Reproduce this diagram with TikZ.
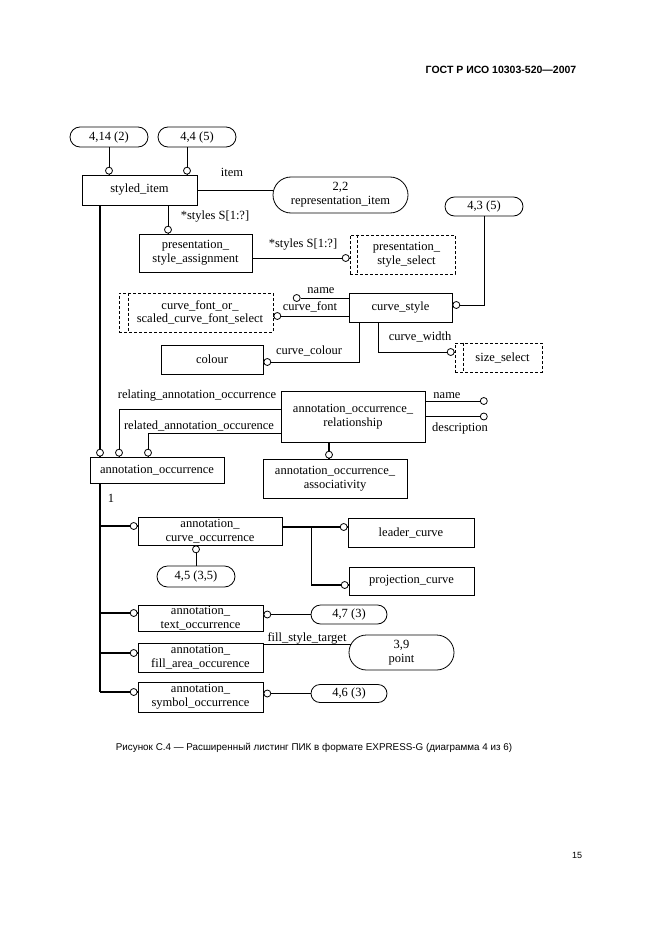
\documentclass[tikz,border=0pt]{standalone}
\usepackage{fontspec}
\setmainfont{Liberation Serif}
\newfontfamily\sansf{Liberation Sans}
\usetikzlibrary{calc}
\tikzset{
  txt/.style={font=\fontsize{12.5}{13.8}\selectfont},
  ent/.style={draw, line width=0.8pt, inner sep=0pt, align=center, txt},
  sel/.style={ent, dash pattern=on 3pt off 2pt},
  selline/.style={line width=0.8pt, dash pattern=on 3pt off 2pt},
  ov/.style={ent, rounded corners=#1},
  lbl/.style={inner sep=0pt, txt},
  ring/.style={circle, draw, line width=0.8pt, fill=white, inner sep=0pt, minimum size=7pt},
  thin/.style={line width=0.8pt},
  thick/.style={line width=1.6pt}
}
\begin{document}
\begin{tikzpicture}[x=1pt,y=-1pt]
\useasboundingbox (0,0) rectangle (661,936);
% page header, footer, caption
\node[inner sep=0pt, font=\sansf\bfseries\fontsize{10.5}{12}\selectfont] (hdr) at (501,70) {ГОСТ Р ИСО 10303-520—2007};
\node[inner sep=0pt, font=\sansf\fontsize{9.85}{11}\selectfont] (cap) at (314,748) {Рисунок С.4 — Расширенный листинг ПИК в формате EXPRESS-G (диаграмма 4 из 6)};
\node[inner sep=0pt, font=\sansf\fontsize{9}{11}\selectfont] (pg) at (577,855) {15};

% entities and references
\node[ov=10pt, minimum width=78pt, minimum height=20pt] (o414) at (109,137) {4,14 (2)};
\node[ov=10pt, minimum width=78pt, minimum height=20pt] (o44) at (197,137) {4,4 (5)};
\node[ent, minimum width=115pt, minimum height=30pt] (styled) at (139.5,190) {styled\_item};
\node[ov=18pt, minimum width=135pt, minimum height=36pt] (repitem) at (340.5,195) {2,2\\representation\_item};
\node[ent, minimum width=113pt, minimum height=38pt] (psa) at (195.5,253) {presentation\_\\style\_assignment};
\node[sel, minimum width=105pt, minimum height=39pt] (pss) at (402.5,254.5) {\hspace*{8pt}presentation\_\\\hspace*{8pt}style\_select};
\node[ov=9.5pt, minimum width=78pt, minimum height=19pt] (o43) at (484,206.5) {4,3 (5)};
\node[ent, minimum width=103pt, minimum height=29pt] (cs) at (400.5,307.5) {curve\_style};
\node[sel, minimum width=154pt, minimum height=39pt] (cfs) at (196,312.5) {\hspace*{8pt}curve\_font\_or\_\\\hspace*{8pt}scaled\_curve\_font\_select};
\node[ent, minimum width=102pt, minimum height=29pt] (colour) at (212,359.5) {colour};
\node[sel, minimum width=87pt, minimum height=29pt] (ss) at (498.5,357.5) {\hspace*{8pt}size\_select};
\node[ent, minimum width=144pt, minimum height=51pt] (aor) at (353,416.5) {annotation\_occurrence\_\\relationship};
\node[ent, minimum width=134pt, minimum height=26pt] (ao) at (157,470) {annotation\_occurrence};
\node[ent, minimum width=144pt, minimum height=39pt] (aoa) at (335,478.5) {annotation\_occurrence\_\\associativity};
\node[ent, minimum width=144pt, minimum height=28pt] (acu) at (210,531) {annotation\_\\curve\_occurrence};
\node[ov=10.5pt, minimum width=78pt, minimum height=21pt] (o45) at (196,576.5) {4,5 (3,5)};
\node[ent, minimum width=126pt, minimum height=29pt] (lc) at (411,532.5) {leader\_curve};
\node[ent, minimum width=125pt, minimum height=28pt] (pc) at (411.5,581) {projection\_curve};
\node[ent, minimum width=125pt, minimum height=26pt] (ato) at (200.5,618) {annotation\_\\text\_occurrence};
\node[ov=9.5pt, minimum width=76pt, minimum height=19pt] (o47) at (349,614.5) {4,7 (3)};
\node[ent, minimum width=125pt, minimum height=29pt] (afa) at (200.5,657.5) {annotation\_\\fill\_area\_occurence};
\node[ov=17.5pt, minimum width=105pt, minimum height=35pt] (o39) at (401.5,652.5) {3,9\\point};
\node[ent, minimum width=125pt, minimum height=30pt] (aso) at (200.5,697) {annotation\_\\symbol\_occurrence};
\node[ov=9pt, minimum width=76pt, minimum height=18pt] (o46) at (349,693.5) {4,6 (3)};

% inner lines of select types
\draw[selline] ([xshift=8pt]pss.north west) -- ([xshift=8pt]pss.south west);
\draw[selline] ([xshift=10pt]cfs.north west) -- ([xshift=10pt]cfs.south west);
\draw[selline] ([xshift=9pt]ss.north west) -- ([xshift=9pt]ss.south west);

% connectors
\draw[thin] (o414.south) -- (o414.south |- styled.north) node[ring, anchor=south] {};
\coordinate (a44) at ([xshift=-10pt]o44.south);
\draw[thin] (a44) -- (a44 |- styled.north) node[ring, anchor=south] {};
\draw[thin] (styled.east) -- (styled.east -| repitem.west);
\node[lbl] (litem) at (232,172) {item};

\coordinate (s2) at ([xshift=28.5pt]styled.south);
\draw[thin] (s2) -- (s2 |- psa.north) node[ring, anchor=south] {};
\node[lbl] (lst1) at (215,217) {*styles S[1:?]};

\coordinate (p1) at ([yshift=-5pt]psa.east);
\draw[thin] (p1) -- (p1 -| pss.west) node[ring, anchor=east] {};
\node[lbl] (lst2) at (303,245) {*styles S[1:?]};

\coordinate (c43) at ([yshift=2.5pt]cs.east);
\draw[thin] (o43.south) |- (c43) node[ring, anchor=west] {};

\draw[thin] ([yshift=9.5pt]cs.west) -- ++(-48,0) node[ring, anchor=east] (rname) {};
\node[lbl] (lname) at (321,291) {name};
\coordinate (cf) at ([yshift=-8.5pt]cs.west);
\draw[thin] (cf) -- (cf -| cfs.east) node[ring, anchor=west] {};
\node[lbl] (lcf) at (310,307) {curve\_font};

\coordinate (cc) at ([xshift=-41.5pt]cs.south);
\draw[thin] (cc) |- ([yshift=-2.5pt]colour.east) node[ring, anchor=west] {};
\node[lbl] (lcc) at (309,351) {curve\_colour};
\coordinate (cw) at ([xshift=-22.5pt]cs.south);
\draw[thin] (cw) |- ([yshift=5.5pt]ss.west) node[ring, anchor=east] {};
\node[lbl] (lcw) at (420,337) {curve\_width};

\draw[thin] ([yshift=15.5pt]aor.east) -- ++(54.5,0) node[ring, anchor=west] (rn2) {};
\node[lbl] (ln2) at (447,396) {name};
\draw[thin] (aor.east) -- ++(54.5,0) node[ring, anchor=west] (rd) {};
\node[lbl] (ldesc) at (460,428) {description};

\coordinate (r1) at ([xshift=-38pt]ao.north);
\draw[thin] ([yshift=7.5pt]aor.west) -| (r1) node[ring, anchor=south] {};
\node[lbl] (lrel1) at (197,396) {relating\_annotation\_occurrence};
\coordinate (r2) at ([xshift=-9pt]ao.north);
\draw[thin] ([yshift=-16.5pt]aor.west) -| (r2) node[ring, anchor=south] {};
\node[lbl] (lrel2) at (199,426) {related\_annotation\_occurence};

\coordinate (s1) at ([xshift=-39.5pt]styled.south);
\draw[thick] (s1) -- (s1 |- ao.north) node[ring, anchor=south] {};
\coordinate (a2) at ([xshift=-24pt]aor.south);
\draw[thick] (a2) -- (a2 |- aoa.north) node[ring, anchor=south] {};

% subtype tree of annotation_occurrence
\coordinate (t0) at ([xshift=-57pt]ao.south);
\coordinate (b1) at ([yshift=5pt]acu.west);
\coordinate (b2) at ([yshift=5pt]ato.west);
\coordinate (b3) at ([yshift=4.5pt]afa.west);
\coordinate (b4) at ([yshift=5pt]aso.west);
\draw[thick] (t0) -- (t0 |- b4);
\node[lbl] (lone) at (111,498) {1};
\draw[thick] (t0 |- b1) -- (b1) node[ring, anchor=east] {};
\draw[thick] (t0 |- b2) -- (b2) node[ring, anchor=east] {};
\draw[thick] (t0 |- b3) -- (b3) node[ring, anchor=east] {};
\draw[thick] (t0 |- b4) -- (b4) node[ring, anchor=east] {};

\coordinate (e1) at ([yshift=4pt]acu.east);
\draw[thick] (e1) -- (e1 -| lc.west) node[ring, anchor=east] {};
\coordinate (j1) at ([xshift=29pt,yshift=4pt]acu.east);
\draw[thick] (j1) |- ([yshift=-4pt]pc.west) node[ring, anchor=east] {};

\draw[thin] (o45.north) -- (o45.north |- acu.south) node[ring, anchor=north] {};
\draw[thin] (o47.west) -- (o47.west -| ato.east) node[ring, anchor=west] {};
\coordinate (f1) at ([yshift=8.5pt,xshift=2.2pt]o39.west);
\draw[thin] (afa.east |- f1) -- (f1);
\node[lbl] (lfill) at (307,638) {fill\_style\_target};
\draw[thin] (o46.west) -- (o46.west -| aso.east) node[ring, anchor=west] {};
\end{tikzpicture}
\end{document}
